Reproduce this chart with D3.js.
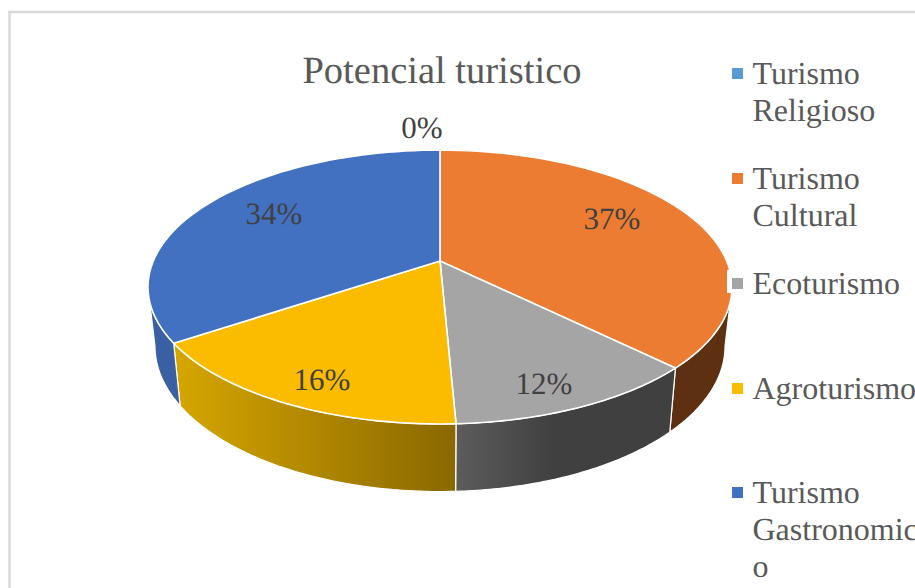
<!DOCTYPE html>
<html>
<head>
<meta charset="utf-8">
<script src="https://cdn.jsdelivr.net/npm/d3@7"></script>
<style>
  html, body { margin: 0; padding: 0; background: #fff; overflow: hidden; }
  svg { display: block; }
  text { font-family: "Liberation Serif", "Times New Roman", serif; text-rendering: geometricPrecision; }
</style>
</head>
<body>
<div id="output"></div>
<script>
var categories = ["Turismo Religioso", "Turismo Cultural", "Ecoturismo", "Agroturismo", "Turismo Gastronomico"];
var shares = [0, 37.4, 11.88, 16.32, 34.4];
var legendLines = [["Turismo", "Religioso"], ["Turismo", "Cultural"], ["Ecoturismo"], ["Agroturismo"], ["Turismo", "Gastronomic", "o"]];
var topColors = ["#5b9bd5", "#ec7c31", "#a5a5a5", "#fbbc00", "#4371c1"];
var sideFrom = ["#3c6a94", "#5e3012", "#5c5c5c", "#d6a600", "#3a5fa3"];
var sideTo = ["#3c6a94", "#5e3012", "#404040", "#8a6800", "#3a5fa3"];

var w = 915;
var h = 588;

var svg = d3.select("#output").append("svg")
    .attr("width", w)
    .attr("height", h);

// frame runs off the right and bottom of the picture
svg.append("rect")
    .attr("x", 9.5)
    .attr("y", 12)
    .attr("width", w + 20)
    .attr("height", h + 20)
    .attr("fill", "#fff")
    .attr("stroke", "#d9d9d9")
    .attr("stroke-width", 2.5);

svg.append("text")
    .attr("x", 442)
    .attr("y", 83)
    .attr("text-anchor", "middle")
    .attr("font-size", 38.5)
    .attr("fill", "#595959")
    .text("Potencial turistico");

// the disc is a circle seen in perspective, so the apex sits above the ellipse centre
var apex = {x: 440, y: 261};
var persp = 0.19, radiusX = 286.7, radiusY = 132;

function topPoint(angle, r) {
    var u = r * Math.sin(angle), v = -r * Math.cos(angle), d = 1 - persp * v;
    return [apex.x + radiusX * u / d, apex.y + radiusY * v / d];
}

function lowerPoint(angle) {
    var p = topPoint(angle, 1);
    return [apex.x + 0.976 * (p[0] - apex.x), 1.062 * p[1] + 41.3];
}

function arcAngles(a0, a1) {
    return d3.range(0, 61).map(function (i) {
        return a0 + (a1 - a0) * i / 60;
    });
}

var pie = d3.pie().sort(null).value(function (d) { return d; });
var slices = pie(shares);
var line = d3.line();

var defs = svg.append("defs");
slices.forEach(function (s, i) {
    var xs = arcAngles(s.startAngle, s.endAngle).map(function (a) { return topPoint(a, 1)[0]; });
    var g = defs.append("linearGradient")
        .attr("id", "side" + i)
        .attr("gradientUnits", "userSpaceOnUse")
        .attr("x1", d3.min(xs))
        .attr("x2", d3.max(xs))
        .attr("y1", 0)
        .attr("y2", 0);
    g.append("stop").attr("offset", 0).attr("stop-color", sideFrom[i]);
    if (i == 2) g.append("stop").attr("offset", 0.45).attr("stop-color", sideTo[i]);
    g.append("stop").attr("offset", 1).attr("stop-color", sideTo[i]);
});

// the wall shows between the two widest points of the ellipse
var sideStart = 101 * Math.PI / 180, sideEnd = 259 * Math.PI / 180;

var drawn = slices.filter(function (s) {
    return s.endAngle > s.startAngle;
});

svg.append("g").selectAll("path")
    .data(drawn.filter(function (s) {
        return s.endAngle > sideStart && s.startAngle < sideEnd;
    }))
    .enter()
    .append("path")
    .attr("d", function (s) {
        var a = arcAngles(Math.max(s.startAngle, sideStart), Math.min(s.endAngle, sideEnd));
        var pts = a.map(function (t) { return topPoint(t, 1); })
            .concat(a.slice().reverse().map(lowerPoint));
        return line(pts) + "Z";
    })
    .attr("fill", function (s) { return "url(#side" + s.index + ")"; })
    .attr("stroke", "#fff")
    .attr("stroke-width", 1.2);

svg.append("g").selectAll("path")
    .data(drawn)
    .enter()
    .append("path")
    .attr("d", function (s) {
        var pts = arcAngles(s.startAngle, s.endAngle).map(function (t) { return topPoint(t, 1); });
        return line([[apex.x, apex.y]].concat(pts)) + "Z";
    })
    .attr("fill", function (s) { return topColors[s.index]; })
    .attr("stroke", "#fff")
    .attr("stroke-width", 1.6)
    .attr("stroke-linejoin", "round");

// data labels, same order as the categories
var labelAt = [[422, 138], [612, 229], [544, 394], [322, 390], [274, 224]];
var percent = d3.format(".0%");

svg.append("g").selectAll("text")
    .data(shares)
    .enter()
    .append("text")
    .attr("x", function (d, i) { return labelAt[i][0]; })
    .attr("y", function (d, i) { return labelAt[i][1]; })
    .attr("text-anchor", "middle")
    .attr("font-size", 31)
    .attr("fill", "#404040")
    .text(function (d) { return percent(d / 100); });

// legend box is opaque and clips the edge of the orange slice
svg.append("rect")
    .attr("x", 727)
    .attr("y", 270)
    .attr("width", 188)
    .attr("height", 23)
    .attr("fill", "#fff");

var legendY = [68, 173, 278, 383, 487];
var legend = svg.append("g").selectAll("g")
    .data(categories)
    .enter()
    .append("g")
    .attr("transform", function (d, i) { return "translate(732," + legendY[i] + ")"; });

legend.append("rect")
    .attr("width", 11)
    .attr("height", 11)
    .attr("fill", function (d, i) { return topColors[i]; });

legend.append("text")
    .attr("font-size", 32)
    .attr("fill", "#595959")
    .selectAll("tspan")
    .data(function (d, i) { return legendLines[i]; })
    .enter()
    .append("tspan")
    .attr("x", 20.5)
    .attr("y", function (d, i) { return 15.5 + i * 37; })
    .text(function (d) { return d; });
</script>
</body>
</html>
